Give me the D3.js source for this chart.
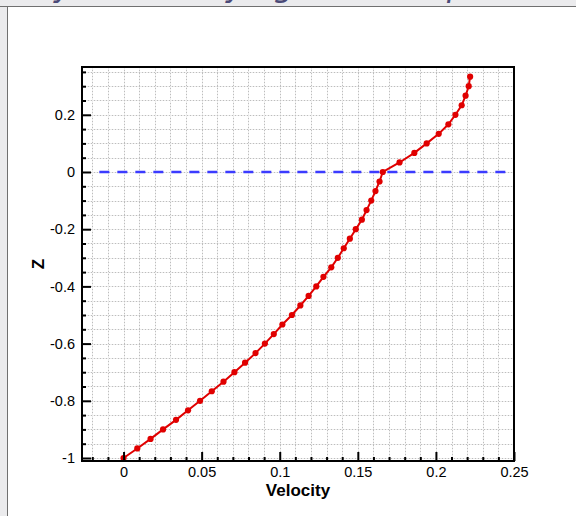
<!DOCTYPE html>
<html>
<head>
<meta charset="utf-8">
<script src="https://cdn.jsdelivr.net/npm/d3@7"></script>
<style>
  html, body { margin: 0; padding: 0; background: #ebebed; }
  svg { display: block; }
</style>
</head>
<body>
<svg id="chart" width="576" height="516"></svg>
<script>
// Velocity profile samples: Z levels and velocity at each level
const zValues = [
  -1.0000, -0.9667, -0.9333, -0.9000, -0.8667, -0.8333, -0.8000, -0.7667, -0.7333, -0.7000,
  -0.6667, -0.6333, -0.6000, -0.5667, -0.5333, -0.5000, -0.4667, -0.4333, -0.4000, -0.3667,
  -0.3333, -0.3000, -0.2667, -0.2333, -0.2000, -0.1667, -0.1333, -0.1000, -0.0667, -0.0333,
   0.0000,  0.0333,  0.0667,  0.1000,  0.1333,  0.1667,  0.2000,  0.2333,  0.2667,  0.3000,
   0.3333
];
const velocityValues = [
  0.0000, 0.0088, 0.0173, 0.0253, 0.0336, 0.0413, 0.0490, 0.0565, 0.0640, 0.0710,
  0.0778, 0.0845, 0.0905, 0.0962, 0.1017, 0.1078, 0.1132, 0.1185, 0.1234, 0.1280,
  0.1330, 0.1372, 0.1410, 0.1449, 0.1487, 0.1526, 0.1556, 0.1586, 0.1613, 0.1639,
  0.1660, 0.1767, 0.1862, 0.1941, 0.2018, 0.2080, 0.2125, 0.2165, 0.2190, 0.2210,
  0.2219
];
// Reference level drawn as a dashed line
const refLevel = [0];
const refRange = [-0.0155, 0.25];

// Axis ticks and labels
const xTicks = [0, 0.05, 0.1, 0.15, 0.2, 0.25];
const xTickLabels = ["0", "0.05", "0.1", "0.15", "0.2", "0.25"];
const yTicks = [-1, -0.8, -0.6, -0.4, -0.2, 0, 0.2];
const yTickLabels = ["-1", "-0.8", "-0.6", "-0.4", "-0.2", "0", "0.2"];
const xTitle = "Velocity";
const yTitle = "Z";

const svg = d3.select("#chart");

// Panel behind the plot
svg.append("rect").attr("x", 7.5).attr("y", 6.5).attr("width", 580).attr("height", 520)
  .attr("fill", "#ffffff").attr("stroke", "#707070").attr("stroke-width", 1);

// Heading glyphs peeking in above the panel
const heading = svg.append("g").attr("font-family", "DejaVu Sans, sans-serif")
  .attr("font-style", "italic").attr("font-size", 32).attr("fill", "#4b4a78");
[["y", 54, -4], ["y", 226, -4], ["g", 274, -4], ["p", 447, -4]].forEach(([t, x, y]) => {
  heading.append("text").attr("x", x).attr("y", y).text(t);
});
svg.append("line").attr("x1", 0).attr("x2", 576).attr("y1", 6.5).attr("y2", 6.5)
  .attr("stroke", "#707070").attr("stroke-width", 1);

const plot = { left: 82, right: 514, top: 67, bottom: 461 };
const x = d3.scaleLinear().domain([-0.0266, 0.25]).range([plot.left, plot.right]);
const y = d3.scaleLinear().domain([-1.0105, 0.3671]).range([plot.bottom, plot.top]);

// Minor grid positions
const xGrid = d3.range(-2, 26).map(i => i / 100);
const yGrid = d3.range(-20, 8).map(i => i / 20);

const grid = svg.append("g");
grid.selectAll(".gx").data(xGrid).join("line")
  .attr("x1", d => Math.round(x(d)) + 0.5).attr("x2", d => Math.round(x(d)) + 0.5)
  .attr("y1", plot.top).attr("y2", plot.bottom)
  .attr("stroke", "#ededed").attr("stroke-width", 1);
grid.selectAll(".gx2").data(xGrid).join("line")
  .attr("x1", d => Math.round(x(d)) + 0.5).attr("x2", d => Math.round(x(d)) + 0.5)
  .attr("y1", plot.top).attr("y2", plot.bottom)
  .attr("stroke", "#bdbdbd").attr("stroke-width", 1).attr("stroke-dasharray", "1,2");
grid.selectAll(".gy").data(yGrid).join("line")
  .attr("y1", d => Math.round(y(d)) + 0.5).attr("y2", d => Math.round(y(d)) + 0.5)
  .attr("x1", plot.left).attr("x2", plot.right)
  .attr("stroke", "#ededed").attr("stroke-width", 1);
grid.selectAll(".gy2").data(yGrid).join("line")
  .attr("y1", d => Math.round(y(d)) + 0.5).attr("y2", d => Math.round(y(d)) + 0.5)
  .attr("x1", plot.left).attr("x2", plot.right)
  .attr("stroke", "#bdbdbd").attr("stroke-width", 1).attr("stroke-dasharray", "1,2");

// Dashed reference line
svg.selectAll(".ref").data(refLevel).join("line")
  .attr("x1", x(refRange[0])).attr("x2", x(refRange[1]))
  .attr("y1", d => y(d)).attr("y2", d => y(d))
  .attr("stroke", "#3b3bff").attr("stroke-width", 2.6).attr("stroke-dasharray", "10,8");

// Profile line and markers
const pts = zValues.map((z, i) => ({ z, v: velocityValues[i] }));
svg.append("path").datum(pts)
  .attr("d", d3.line().x(d => x(d.v)).y(d => y(d.z)))
  .attr("fill", "none").attr("stroke", "#e00000").attr("stroke-width", 2);
svg.selectAll(".pt").data(pts).join("circle")
  .attr("cx", d => x(d.v)).attr("cy", d => y(d.z)).attr("r", 3.1)
  .attr("fill", "#e00000");

// Axes: ticks point inward, labels outside
const bottomAxis = d3.axisBottom(x).tickValues(xTicks)
  .tickFormat((d, i) => xTickLabels[i]).tickSizeInner(-9).tickSizeOuter(0).tickPadding(6);
const gx = svg.append("g").attr("transform", `translate(0,${plot.bottom})`).call(bottomAxis);
const bottomMinor = d3.axisBottom(x).tickValues(xGrid.filter(d => !xTicks.some(t => Math.abs(t - d) < 1e-9)))
  .tickFormat("").tickSizeInner(-4).tickSizeOuter(0);
const gxm = svg.append("g").attr("transform", `translate(0,${plot.bottom})`).call(bottomMinor);

const leftAxis = d3.axisLeft(y).tickValues(yTicks)
  .tickFormat((d, i) => yTickLabels[i]).tickSizeInner(-9).tickSizeOuter(0).tickPadding(7);
const gy = svg.append("g").attr("transform", `translate(${plot.left},0)`).call(leftAxis);
const leftMinor = d3.axisLeft(y).tickValues(yGrid.filter(d => !yTicks.some(t => Math.abs(t - d) < 1e-9)))
  .tickFormat("").tickSizeInner(-4).tickSizeOuter(0);
const gym = svg.append("g").attr("transform", `translate(${plot.left},0)`).call(leftMinor);

[gx, gxm, gy, gym].forEach(g => {
  g.select(".domain").remove();
  g.selectAll(".tick line").attr("stroke", "#000").attr("stroke-width", 2);
  g.selectAll(".tick text").attr("font-family", "Liberation Sans, Arial, sans-serif")
    .attr("font-size", 14.5).attr("fill", "#000");
});

// Frame
svg.append("rect").attr("x", plot.left).attr("y", plot.top)
  .attr("width", plot.right - plot.left).attr("height", plot.bottom - plot.top)
  .attr("fill", "none").attr("stroke", "#000").attr("stroke-width", 2);

// Axis titles
svg.append("text").attr("x", (plot.left + plot.right) / 2).attr("y", 496)
  .attr("text-anchor", "middle").attr("font-family", "Liberation Sans, Arial, sans-serif")
  .attr("font-weight", "bold").attr("font-size", 17).text(xTitle);
svg.append("text").attr("transform", `translate(44,${(plot.top + plot.bottom) / 2}) rotate(-90)`)
  .attr("text-anchor", "middle").attr("font-family", "Liberation Sans, Arial, sans-serif")
  .attr("font-weight", "bold").attr("font-size", 17).text(yTitle);
</script>
</body>
</html>
